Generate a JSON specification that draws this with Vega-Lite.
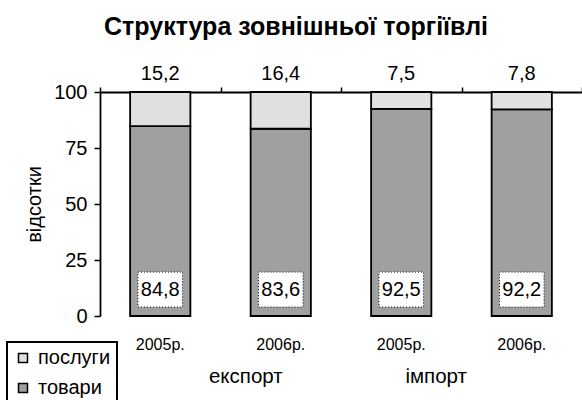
{
  "$schema": "https://vega.github.io/schema/vega-lite/v6.json",
  "autosize": "none",
  "width": 482,
  "height": 224,
  "padding": {"left": 100, "top": 92, "right": 0, "bottom": 84},
  "background": "white",
  "title": {
    "text": "Структура зовнішньої торгіївлі",
    "font": "Liberation Sans",
    "fontSize": 25,
    "fontWeight": "bold",
    "color": "black",
    "anchor": "middle",
    "frame": "group",
    "dx": -45,
    "offset": 24
  },
  "config": {
    "view": {"stroke": null},
    "font": "Liberation Sans",
    "locale": {"number": {"decimal": ",", "thousands": " ", "grouping": [3], "currency": ["", ""]}},
    "axis": {"labelColor": "black", "titleColor": "black", "grid": false, "labelFont": "Liberation Sans", "titleFont": "Liberation Sans"},
    "legend": {"strokeWidth": 2}
  },
  "datasets": {
    "bars": [
      {"cat": "2005р. експорт", "type": "товари", "v": 84.8},
      {"cat": "2005р. експорт", "type": "послуги", "v": 15.2},
      {"cat": "2006р. експорт", "type": "товари", "v": 83.6},
      {"cat": "2006р. експорт", "type": "послуги", "v": 16.4},
      {"cat": "2005р. імпорт", "type": "товари", "v": 92.5},
      {"cat": "2005р. імпорт", "type": "послуги", "v": 7.5},
      {"cat": "2006р. імпорт", "type": "товари", "v": 92.2},
      {"cat": "2006р. імпорт", "type": "послуги", "v": 7.8}
    ],
    "groups": [
      {"g": "експорт", "at": 1.21},
      {"g": "імпорт", "at": 2.79}
    ]
  },
  "layer": [
    {
      "data": {"name": "bars"},
      "layer": [
        {
          "mark": {"type": "bar", "stroke": "black", "strokeWidth": 1.8},
          "encoding": {
            "x": {
              "field": "cat", "type": "nominal", "sort": null,
              "scale": {"paddingInner": 0.5, "paddingOuter": 0.25},
              "axis": {"title": null, "domain": false, "ticks": false, "labelAngle": 0, "labelFontSize": 16, "labelPadding": 20, "labelExpr": "split(datum.label, ' ')[0]"}
            },
            "y": {
              "field": "v", "type": "quantitative", "stack": "zero",
              "scale": {"domain": [0, 100], "nice": false},
              "axis": {"values": [0, 25, 50, 75, 100], "title": "відсотки", "titleFontSize": 20, "titleFontWeight": "normal", "titlePadding": 9, "labelFontSize": 20, "labelPadding": 7, "tickSize": 6, "tickColor": "black", "tickWidth": 1.5, "domainColor": "black", "domainWidth": 1.8}
            },
            "color": {
              "field": "type", "type": "nominal",
              "scale": {"domain": ["послуги", "товари"], "range": ["#e0e0e0", "#a0a0a0"]},
              "legend": {
                "title": null, "orient": "none", "legendX": -93, "legendY": 250,
                "padding": 6, "strokeColor": "black", "fillColor": "white",
                "symbolType": "square", "symbolSize": 81, "symbolStrokeColor": "black", "symbolStrokeWidth": 1.5,
                "labelFontSize": 20, "labelColor": "black", "labelOffset": 5, "rowPadding": 10
              }
            },
            "order": {"field": "type", "sort": "descending"}
          }
        },
        {
          "transform": [{"filter": "datum.type === 'товари'"}],
          "mark": {"type": "bar", "fill": "white", "stroke": "black", "strokeWidth": 1, "strokeDash": [1, 2], "width": {"band": 0.74}},
          "encoding": {
            "x": {"field": "cat", "type": "nominal", "sort": null},
            "y": {"datum": 4},
            "y2": {"datum": 19.6}
          }
        },
        {
          "transform": [{"filter": "datum.type === 'товари'"}],
          "mark": {"type": "text", "fontSize": 20, "baseline": "middle", "color": "black"},
          "encoding": {
            "x": {"field": "cat", "type": "nominal", "sort": null},
            "y": {"datum": 11.8},
            "text": {"field": "v", "type": "quantitative", "format": ".1f"}
          }
        },
        {
          "transform": [{"filter": "datum.type === 'послуги'"}],
          "mark": {"type": "text", "fontSize": 20, "baseline": "alphabetic", "dy": -12, "color": "black"},
          "encoding": {
            "x": {"field": "cat", "type": "nominal", "sort": null},
            "y": {"datum": 100},
            "text": {"field": "v", "type": "quantitative", "format": ".1f"}
          }
        }
      ]
    },
    {
      "data": {"name": "groups"},
      "mark": {"type": "text", "fontSize": 20.5, "baseline": "alphabetic", "color": "black"},
      "encoding": {
        "x": {
          "field": "at", "type": "quantitative",
          "scale": {"domain": [0, 4], "nice": false, "zero": false},
          "axis": {"values": [0, 1, 2, 3, 4], "labels": false, "title": null, "tickSize": 5, "tickColor": "black", "tickWidth": 1.5, "domainColor": "black", "domainWidth": 1.8}
        },
        "y": {"datum": -29.9},
        "text": {"field": "g"}
      }
    }
  ],
  "resolve": {"scale": {"x": "independent"}}
}
